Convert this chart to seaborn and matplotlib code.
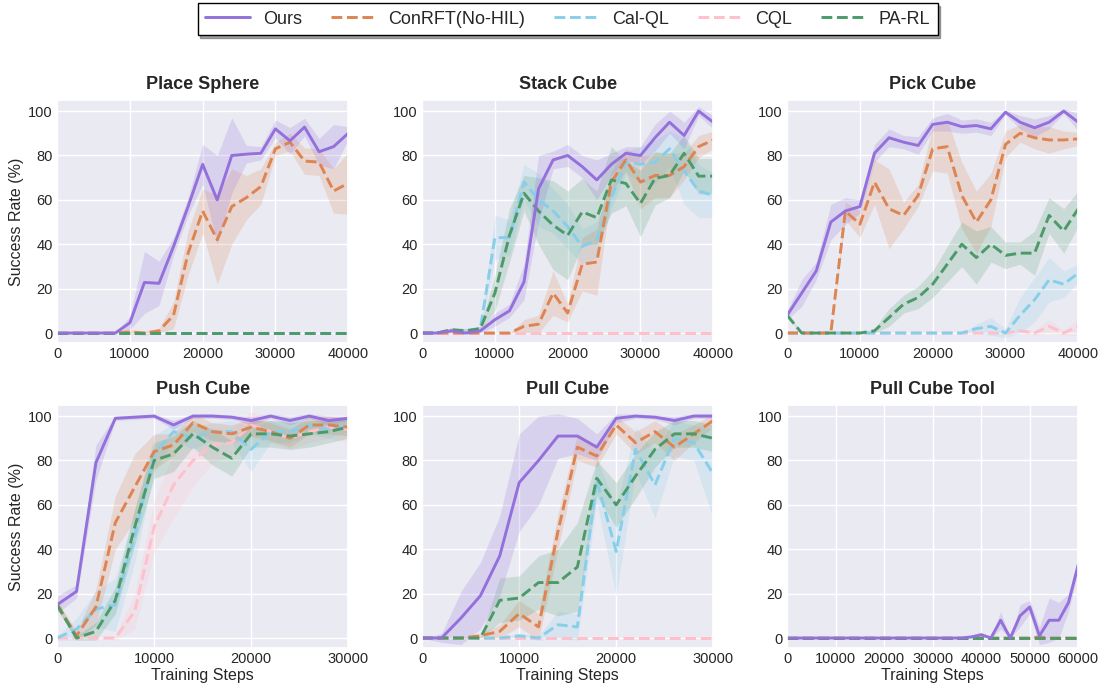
import numpy as np
import pandas as pd
import seaborn as sns
import matplotlib.pyplot as plt
from matplotlib.lines import Line2D

methods = ['Ours', 'ConRFT(No-HIL)', 'Cal-QL', 'CQL', 'PA-RL']
colors = {'Ours': '#9370DB', 'ConRFT(No-HIL)': '#DD8452', 'Cal-QL': '#87CEEB',
          'CQL': '#FFC0CB', 'PA-RL': '#4C9A6A'}

steps_40k = list(range(0, 40001, 2000))
steps_30k = list(range(0, 30001, 2000))
steps_60k = list(range(0, 60001, 2000))

# ---- Place Sphere ----
place_mean = {
    'Ours': [0, 0, 0, 0, 0, 4.6, 22.8, 22.4, 39, 57, 76, 60, 80, 80.6, 81, 92, 86.6, 92.8, 81.7, 84, 90],
    'ConRFT(No-HIL)': [0, 0, 0, 0, 0, 0.5, 0, 1, 8, 36, 55, 42, 57, 61, 66, 83, 86, 77.5, 77, 64, 67.5],
    'Cal-QL': [0] * 21,
    'CQL': [0] * 21,
    'PA-RL': [0] * 21,
}
place_std = {
    'Ours': [0, 0, 0, 0, 0, 3, 14, 10, 4, 4, 9, 20, 17, 4, 3, 4, 6, 4, 6, 10, 3],
    'ConRFT(No-HIL)': [0, 0, 0, 0, 0, 1, 1, 1, 6, 10, 10, 20, 17, 10, 8, 3, 4, 6, 6, 10, 14],
    'Cal-QL': [0] * 21,
    'CQL': [0] * 21,
    'PA-RL': [0] * 21,
}

# ---- Stack Cube ----
stack_mean = {
    'Ours': [0, 0, 1, 0, 1, 6, 10, 23, 65, 78, 80, 75, 69, 76, 81, 80, 88, 95, 89, 100, 95],
    'ConRFT(No-HIL)': [0, 0, 0, 0, 0, 0, 0, 3, 4, 18, 9, 31, 32, 68, 78, 68, 71, 71, 75, 84, 87],
    'Cal-QL': [0, 0, 1, 1, 2, 43, 43, 68, 60, 55, 48, 39, 42, 61, 77, 76, 77, 83, 73, 64, 62],
    'CQL': [0] * 21,
    'PA-RL': [0, 0, 1.5, 1, 2, 18, 44, 63, 55, 48.6, 44, 54.6, 52, 69, 67.4, 58.4, 69.7, 71, 81, 70.7, 70.7],
}
stack_std = {
    'Ours': [0, 0, 1, 0, 1, 3, 3, 8, 15, 4, 5, 5, 9, 5, 3, 4, 6, 5, 6, 2, 3],
    'ConRFT(No-HIL)': [0, 0, 0, 0, 0, 0, 0, 3, 4, 10, 4, 12, 15, 5, 5, 12, 10, 10, 6, 5, 4],
    'Cal-QL': [0, 0, 1, 1, 1, 10, 8, 8, 12, 10, 10, 8, 8, 5, 5, 8, 10, 8, 15, 12, 10],
    'CQL': [0] * 21,
    'PA-RL': [0, 0, 1, 1, 1, 8, 12, 8, 15, 20, 20, 15, 12, 15, 10, 15, 12, 10, 8, 8, 8],
}

# ---- Pick Cube ----
pick_mean = {
    'Ours': [8, 18, 28, 50, 55, 57, 81, 88, 86, 84.5, 94, 95, 93, 93.5, 92, 99.5, 95, 92.5, 95, 100, 95],
    'ConRFT(No-HIL)': [0, 0, 0, 0, 55, 49, 68, 56, 53, 62, 83, 84, 62, 50, 60, 85, 90, 88, 87, 87, 87.5],
    'Cal-QL': [0] * 13 + [2, 3, 0, 8, 15, 24, 22, 27],
    'CQL': [0] * 16 + [1, 0, 3, 0, 3],
    'PA-RL': [8, 0, 0, 0, 0, 0, 1, 7, 13, 16, 22, 31, 40, 34, 40, 35, 36, 36, 53, 46, 56],
}
pick_std = {
    'Ours': [2, 6, 4, 8, 6, 3, 4, 4, 3, 4, 3, 4, 3, 3, 3, 1, 3, 4, 3, 1, 4],
    'ConRFT(No-HIL)': [0, 0, 0, 0, 4, 6, 10, 18, 6, 5, 10, 12, 15, 14, 12, 6, 4, 5, 6, 4, 3],
    'Cal-QL': [0] * 13 + [2, 4, 2, 8, 10, 10, 6, 4],
    'CQL': [0] * 16 + [1, 1, 3, 1, 4],
    'PA-RL': [1, 0, 0, 0, 0, 0, 1, 4, 4, 5, 6, 8, 10, 12, 8, 6, 5, 10, 8, 10, 8],
}

# ---- Push Cube ----
push_mean = {
    'Ours': [15, 21, 79, 99, 99.5, 100, 96, 100, 100, 99.5, 98, 100, 98, 100, 98, 99],
    'ConRFT(No-HIL)': [15, 1, 14, 52, 68, 84, 87, 97, 93, 92, 95, 93, 90, 96, 96, 95],
    'Cal-QL': [0, 4, 13, 15, 46, 83, 93, 90, 93, 93, 85, 93, 93, 96, 94, 96],
    'CQL': [0, 0, 0, 0, 12, 50, 69, 80, 87, 88, 96, 93, 90, 93, 95, 94],
    'PA-RL': [15, 0, 3, 17, 50, 80, 83, 92, 86, 81, 92, 92, 91, 92, 93, 95],
}
push_std = {
    'Ours': [4, 3, 8, 1, 1, 1, 2, 1, 1, 1, 2, 1, 2, 1, 2, 1],
    'ConRFT(No-HIL)': [2, 2, 8, 12, 15, 8, 5, 4, 4, 4, 4, 4, 4, 4, 4, 4],
    'Cal-QL': [1, 5, 8, 12, 12, 8, 4, 5, 4, 5, 10, 5, 5, 4, 4, 3],
    'CQL': [0, 0, 0, 1, 8, 12, 15, 12, 8, 6, 6, 5, 5, 5, 5, 6],
    'PA-RL': [2, 1, 4, 6, 8, 8, 8, 6, 8, 8, 6, 6, 6, 6, 5, 5],
}

# ---- Pull Cube ----
pull_mean = {
    'Ours': [0, 0, 9, 19, 37, 70, 80, 91, 91, 86, 99, 100, 99.5, 98, 100, 100],
    'ConRFT(No-HIL)': [0, 0, 0, 1, 3, 11, 5, 48, 86, 82, 96, 88, 93, 86, 92, 98],
    'Cal-QL': [0, 0, 0, 0, 0, 1, 0, 6, 5, 71, 39, 85, 69, 90, 88, 74],
    'CQL': [0] * 16,
    'PA-RL': [0, 0, 0, 0, 17, 18, 25, 25, 32, 72, 60, 73, 85, 92, 92, 90],
}
pull_std = {
    'Ours': [0, 2, 12, 15, 18, 22, 20, 10, 8, 6, 2, 1, 1, 2, 1, 1],
    'ConRFT(No-HIL)': [0, 0, 0, 1, 3, 6, 6, 8, 6, 5, 4, 5, 5, 6, 4, 3],
    'Cal-QL': [0, 0, 0, 0, 0, 1, 1, 6, 6, 10, 20, 10, 15, 8, 8, 20],
    'CQL': [0] * 16,
    'PA-RL': [0, 0, 0, 0, 10, 10, 12, 15, 20, 8, 10, 10, 8, 6, 6, 6],
}

# ---- Pull Cube Tool ----
tool_mean = {
    'Ours': [0] * 19 + [0.5, 1.5, 0, 8, 0, 10, 14, 1, 8, 8, 16, 33],
    'ConRFT(No-HIL)': [0] * 26 + [0.5, 0, 0, 0, 0],
    'Cal-QL': [0] * 31,
    'CQL': [0] * 31,
    'PA-RL': [0] * 31,
}
tool_std = {
    'Ours': [0] * 19 + [0.5, 1, 0, 4, 0, 5, 3, 4, 10, 8, 4, 3],
    'ConRFT(No-HIL)': [0] * 26 + [1, 0, 0, 0, 0],
    'Cal-QL': [0] * 31,
    'CQL': [0] * 31,
    'PA-RL': [0] * 31,
}

panels = [
    ('Place Sphere', steps_40k, place_mean, place_std),
    ('Stack Cube', steps_40k, stack_mean, stack_std),
    ('Pick Cube', steps_40k, pick_mean, pick_std),
    ('Push Cube', steps_30k, push_mean, push_std),
    ('Pull Cube', steps_30k, pull_mean, pull_std),
    ('Pull Cube Tool', steps_60k, tool_mean, tool_std),
]

sns.set_theme(style='darkgrid')
plt.rcParams['font.family'] = ['Liberation Sans', 'DejaVu Sans']

fig, axes = plt.subplots(2, 3, figsize=(10.98, 6.85), dpi=100)
fig.subplots_adjust(left=0.052, right=0.982, top=0.854, bottom=0.054,
                    wspace=0.254, hspace=0.255)

# draw back-to-front so Ours is on top
order = ['CQL', 'Cal-QL', 'ConRFT(No-HIL)', 'PA-RL', 'Ours']

for i, (title, steps, means, stds) in enumerate(panels):
    ax = axes.flat[i]
    rows = []
    for m in methods:
        for s, v in zip(steps, means[m]):
            rows.append({'step': s, 'rate': v, 'method': m})
    df = pd.DataFrame(rows)
    for m in order:
        mu = np.array(means[m], dtype=float)
        sd = np.array(stds[m], dtype=float)
        ax.fill_between(steps, mu - sd, mu + sd, color=colors[m], alpha=0.2, linewidth=0)
    for m in order:
        sns.lineplot(data=df[df['method'] == m], x='step', y='rate', ax=ax,
                     color=colors[m], linewidth=2.1, estimator=None, errorbar=None,
                     linestyle='-' if m == 'Ours' else '--', legend=False)
    ax.set_xlim(0, steps[-1])
    ax.set_ylim(-4.5, 105)
    ax.set_yticks([0, 20, 40, 60, 80, 100])
    ax.set_xticks(list(range(0, steps[-1] + 1, 10000)))
    ax.tick_params(labelsize=10.5, length=0, pad=3)
    ax.set_title(title, fontsize=13, fontweight='bold', pad=8)
    ax.set_xlabel('Training Steps' if i >= 3 else '', fontsize=11.5, labelpad=1)
    ax.set_ylabel('Success Rate (%)' if i % 3 == 0 else '', fontsize=11.5, labelpad=3)

handles = [Line2D([0], [0], color=colors[m], linewidth=2.1,
                  linestyle='-' if m == 'Ours' else '--') for m in methods]
leg = fig.legend(handles, methods, loc='upper center', bbox_to_anchor=(0.517, 0.995),
                 ncol=5, fontsize=13, frameon=True, fancybox=False, shadow=True,
                 columnspacing=1.6, handlelength=2.5, handletextpad=0.7, borderpad=0.4,
                 borderaxespad=0)
leg.get_frame().set_edgecolor('black')
leg.get_frame().set_facecolor('white')
leg.get_frame().set_linewidth(1.0)

fig.savefig('out.png', dpi=100)
